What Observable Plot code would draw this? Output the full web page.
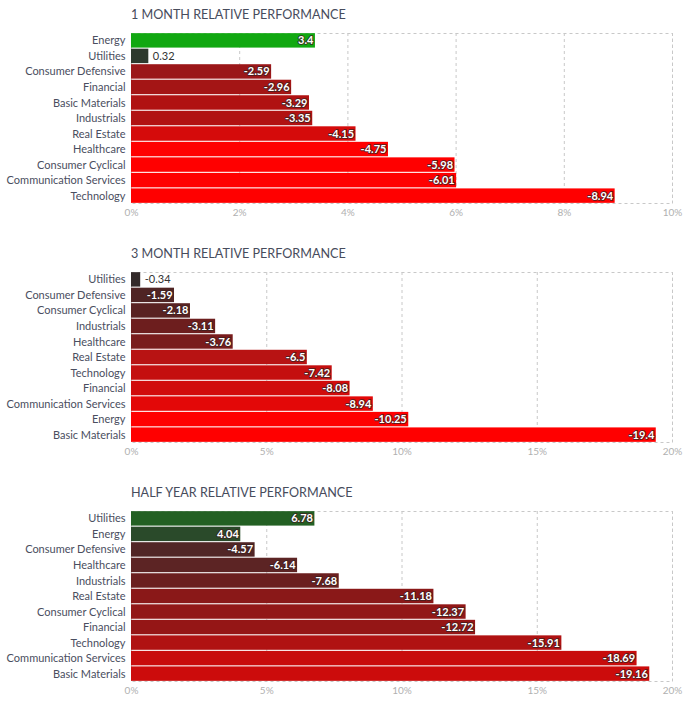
<!DOCTYPE html>
<html>
<head>
<meta charset="utf-8">
<script src="https://cdn.jsdelivr.net/npm/d3@7"></script>
<script src="https://cdn.jsdelivr.net/npm/@observablehq/plot@0.6"></script>
<style>
  html, body { margin: 0; padding: 0; background: #fff; }
  body { width: 689px; font-family: Lato, "Open Sans", sans-serif; }
  .panel { position: relative; height: 239px; }
  .title { position: absolute; left: 131px; top: 7px; font-size: 12.6px; color: #474c5c; letter-spacing: 0; }
  .chart { position: absolute; left: 0; top: 28px; }
</style>
</head>
<body>
<div id="root"></div>
<script>
// ---- Data ----
const titles = ["1 MONTH RELATIVE PERFORMANCE", "3 MONTH RELATIVE PERFORMANCE", "HALF YEAR RELATIVE PERFORMANCE"];

const m1Sectors = ["Energy", "Utilities", "Consumer Defensive", "Financial", "Basic Materials", "Industrials", "Real Estate", "Healthcare", "Consumer Cyclical", "Communication Services", "Technology"];
const m1Values = [3.4, 0.32, -2.59, -2.96, -3.29, -3.35, -4.15, -4.75, -5.98, -6.01, -8.94];
const m1Colors = ["#11a811", "#2e3a2e", "#9b1719", "#a41515", "#b01212", "#b11212", "#d50b0b", "#ff0000", "#ff0000", "#ff0000", "#ff0000"];
const m1Ticks = [0, 2, 4, 6, 8, 10];

const m3Sectors = ["Utilities", "Consumer Defensive", "Consumer Cyclical", "Industrials", "Healthcare", "Real Estate", "Technology", "Financial", "Communication Services", "Energy", "Basic Materials"];
const m3Values = [-0.34, -1.59, -2.18, -3.11, -3.76, -6.5, -7.42, -8.08, -8.94, -10.25, -19.4];
const m3Colors = ["#332a2a", "#4f2424", "#592222", "#6d1e1e", "#791c1c", "#b81313", "#c40f0f", "#d10c0c", "#e30808", "#ff0000", "#ff0000"];
const m3Ticks = [0, 5, 10, 15, 20];

const hySectors = ["Utilities", "Energy", "Consumer Defensive", "Healthcare", "Industrials", "Real Estate", "Consumer Cyclical", "Financial", "Technology", "Communication Services", "Basic Materials"];
const hyValues = [6.78, 4.04, -4.57, -6.14, -7.68, -11.18, -12.37, -12.72, -15.91, -18.69, -19.16];
const hyColors = ["#236023", "#2a4a2a", "#512626", "#5c2424", "#6b1f1f", "#8a1818", "#921717", "#951616", "#b01212", "#c80c0c", "#cc0c0c"];
const hyTicks = [0, 5, 10, 15, 20];

const panels = [
  {title: titles[0], sectors: m1Sectors, values: m1Values, colors: m1Colors, ticks: m1Ticks},
  {title: titles[1], sectors: m3Sectors, values: m3Values, colors: m3Colors, ticks: m3Ticks},
  {title: titles[2], sectors: hySectors, values: hyValues, colors: hyColors, ticks: hyTicks}
];

const root = document.getElementById("root");
const W = 689, ML = 131, MR = 17, MT = 5, PH = 170, MB = 20;

for (const p of panels) {
  const data = p.sectors.map((s, i) => ({sector: s, value: p.values[i], abs: Math.abs(p.values[i]), color: p.colors[i]}));
  const xMax = p.ticks[p.ticks.length - 1];
  const pxPerUnit = (W - ML - MR) / xMax;
  const inside = data.filter(d => d.abs * pxPerUnit >= 30);
  const outside = data.filter(d => d.abs * pxPerUnit < 30);

  const panel = document.createElement("div");
  panel.className = "panel";
  const t = document.createElement("div");
  t.className = "title";
  t.textContent = p.title;
  panel.appendChild(t);

  const chart = Plot.plot({
    width: W,
    height: MT + PH + MB,
    marginLeft: ML,
    marginRight: MR,
    marginTop: MT,
    marginBottom: MB,
    style: {fontFamily: "Lato, sans-serif", background: "#fff", overflow: "visible"},
    x: {domain: [0, xMax], ticks: p.ticks, tickFormat: d => d + "%", label: null},
    y: {domain: p.sectors, label: null, paddingInner: 0.07, paddingOuter: 0.01, round: false},
    marks: [
      Plot.gridX(p.ticks, {stroke: "#c8c8c8", strokeOpacity: 1, strokeDasharray: "3,3"}),
      Plot.frame({stroke: "#c8c8c8", strokeDasharray: "3,3"}),
      Plot.barX(data, {x: "abs", y: "sector", fill: d => d.color}),
      Plot.text(inside, {x: "abs", y: "sector", text: d => String(d.value), textAnchor: "end", dx: -2, fill: "#fff", stroke: "#3a2020", strokeWidth: 2, strokeOpacity: 0.75, fontWeight: "bold", fontSize: 11}),
      Plot.text(outside, {x: "abs", y: "sector", text: d => String(d.value), textAnchor: "start", dx: 4, fill: "#333", fontSize: 11}),
      Plot.axisX({ticks: p.ticks, tickFormat: d => d + "%", tickSize: 0, tickPadding: 5, fontSize: 10, color: "#b0b0b0", label: null}),
      Plot.axisY({tickSize: 0, tickPadding: 6, fontSize: 11, color: "#4a4e60", label: null})
    ]
  });
  const wrap = document.createElement("div");
  wrap.className = "chart";
  wrap.appendChild(chart);
  panel.appendChild(wrap);
  root.appendChild(panel);
}
</script>
</body>
</html>
